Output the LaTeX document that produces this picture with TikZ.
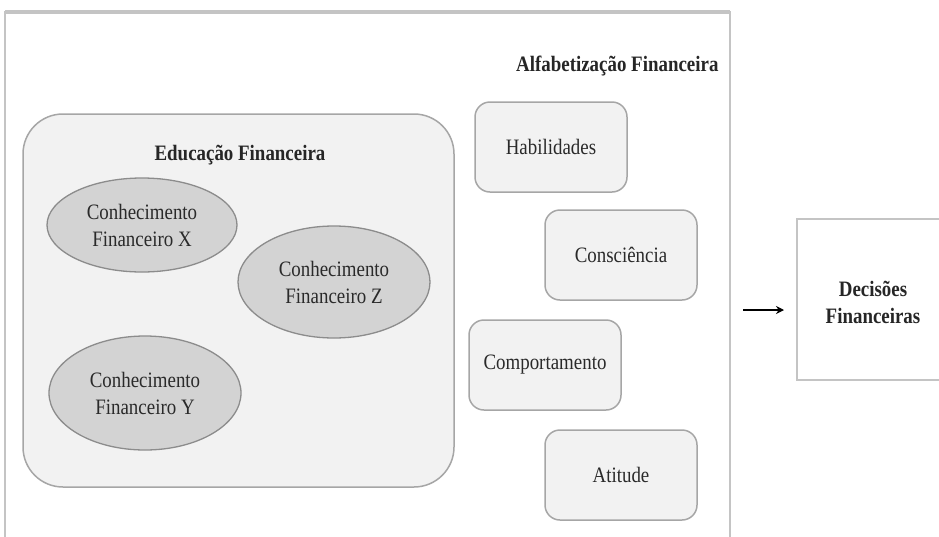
\documentclass[tikz,border=0pt]{standalone}
\usepackage{fontspec}
\setmainfont{Liberation Serif}[FakeStretch=0.86]
\usetikzlibrary{shapes.geometric,arrows.meta}
\definecolor{boxfill}{HTML}{F2F2F2}
\definecolor{boxline}{HTML}{A6A6A6}
\definecolor{ellfill}{HTML}{D3D3D3}
\definecolor{ellline}{HTML}{8C8C8C}
\definecolor{outline}{HTML}{C4C4C4}
\definecolor{txt}{HTML}{2A2A2A}
\tikzset{
  every node/.style={font=\fontsize{22}{27}\selectfont, text=txt},
  knowledge/.style={ellipse, draw=ellline, fill=ellfill, line width=1.3pt, inner sep=0pt, align=center},
  skill/.style={rectangle, rounded corners=15pt, draw=boxline, fill=boxfill, line width=1.5pt, minimum width=152pt, minimum height=90pt, align=center},
  title/.style={font=\fontsize{22}{27}\selectfont\bfseries, text=black!85},
  frame/.style={draw=outline, line width=2.5pt}
}
\begin{document}
\begin{tikzpicture}[x=1pt,y=-1pt]
\useasboundingbox (0,0) rectangle (939,536);
\clip (0,0) rectangle (939,536);
\fill[white] (0,0) rectangle (939,536);
% outer frame
\draw[frame] (5,12) rectangle (730,560);
\draw[draw=outline, line width=4pt] (5,12) -- (730,12);
\node[title, anchor=east] (alf) at (722,66) {Alfabetização Financeira};
% education box
\draw[draw=boxline, fill=boxfill, line width=1.5pt, rounded corners=40pt] (23,114) rectangle (454,487);
\node[title] (edu) at (240,155) {Educação Financeira};
\node[knowledge, minimum width=190pt, minimum height=94pt] (kx) at (142,225) {Conhecimento\\Financeiro X};
\node[knowledge, minimum width=192pt, minimum height=112pt] (kz) at (334,282) {Conhecimento\\Financeiro Z};
\node[knowledge, minimum width=192pt, minimum height=114pt] (ky) at (145,393) {Conhecimento\\Financeiro Y};
% skills
\node[skill] (hab) at (551,147) {Habilidades};
\node[skill] (con) at (621,255) {Consciência};
\node[skill] (com) at (545,365) {Comportamento};
\node[skill] (ati) at (621,475) {Atitude};
% decisions
\draw[frame] (797,219) rectangle (960,380);
\node[title, align=center] (dec) at (873,302) {Decisões\\Financeiras};
\coordinate (a1) at (743,310);
\coordinate (a2) at (784,310);
\draw[line width=2.6pt, -{Stealth[length=8pt,width=8pt]}] (a1) -- (a2);
\end{tikzpicture}
\end{document}
